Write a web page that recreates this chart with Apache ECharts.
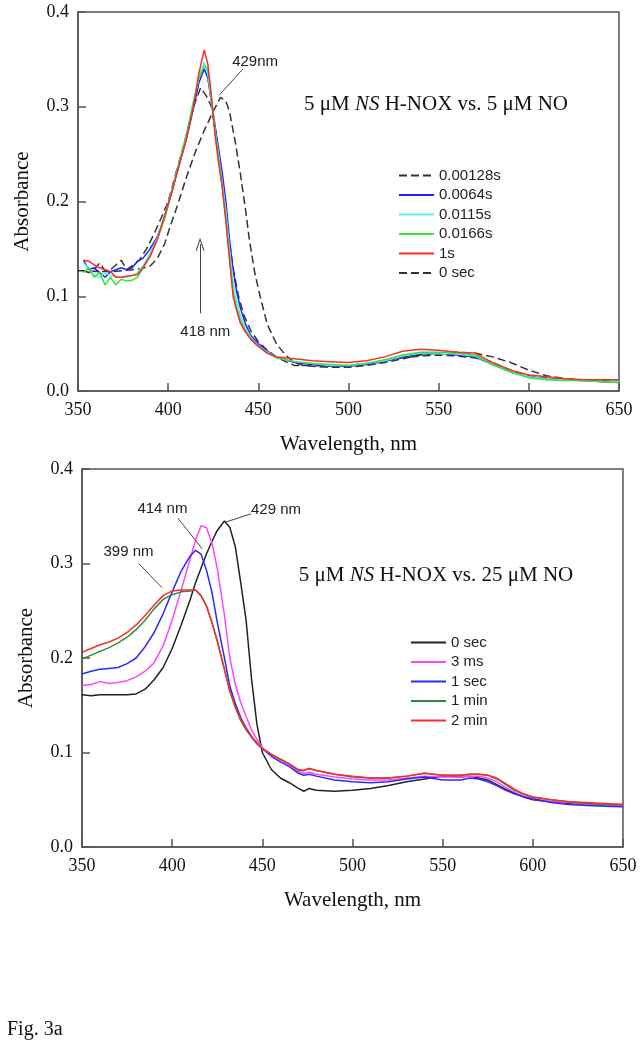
<!DOCTYPE html>
<html>
<head>
<meta charset="utf-8">
<script src="https://cdn.jsdelivr.net/npm/echarts@6/dist/echarts.min.js"></script>
<style>
html,body{margin:0;padding:0;background:#fff;}
#top{position:absolute;left:0;top:0;width:644px;height:460px;}
#bot{position:absolute;left:0;top:460px;width:644px;height:590px;}
</style>
</head>
<body>
<div id="top"></div>
<div id="bot"></div>
<script>
// ---------- DATA: top panel (5 µM NO) ----------
const xTicks = [350, 400, 450, 500, 550, 600, 650];
const yTicks = [0.0, 0.1, 0.2, 0.3, 0.4];

const topWl00128 = [353,356,359,362,365,368,371,374,377,380,384,388,392,396,400,404,408,412,415,418,421,424,427,430,433,436,439,442,446,450,455,460,465,470,480,490,500,510,520,530,540,550,560,570,580,590,600,610,620,630,640,650];
const topAbs00128 = [0.127,0.125,0.128,0.135,0.127,0.128,0.133,0.138,0.128,0.132,0.138,0.15,0.165,0.182,0.2,0.228,0.255,0.285,0.305,0.32,0.312,0.300,0.265,0.22,0.17,0.13,0.1,0.08,0.063,0.052,0.043,0.036,0.031,0.027,0.027,0.026,0.027,0.029,0.032,0.035,0.037,0.038,0.037,0.035,0.03,0.022,0.016,0.014,0.012,0.011,0.01,0.01];

const topWl0 = [350,355,360,365,370,375,380,385,390,394,398,401,405,410,415,420,425,429,432,434,437,440,443,445,448,451,455,460,465,470,475,480,490,500,510,520,530,540,550,560,570,575,580,590,600,610,620,630,640,650];
const topAbs0 = [0.127,0.127,0.126,0.126,0.126,0.127,0.128,0.129,0.132,0.14,0.155,0.173,0.195,0.225,0.252,0.275,0.295,0.31,0.306,0.295,0.265,0.23,0.19,0.16,0.125,0.1,0.07,0.05,0.038,0.03,0.027,0.026,0.025,0.025,0.027,0.03,0.034,0.038,0.04,0.041,0.04,0.038,0.036,0.03,0.022,0.016,0.013,0.012,0.011,0.01];

const topWl = [353,356,359,362,365,368,371,374,377,380,383,386,390,394,398,402,406,410,414,417,420,422,424,426,428,430,432,434,436,438,440,443,446,450,455,460,470,480,490,500,510,520,530,540,550,560,570,580,590,600,610,620,630,640,650];
const topAbs0064 = [0.138,0.128,0.13,0.125,0.12,0.126,0.128,0.13,0.128,0.13,0.137,0.14,0.15,0.163,0.183,0.21,0.238,0.265,0.298,0.325,0.34,0.33,0.305,0.28,0.255,0.23,0.2,0.16,0.128,0.105,0.088,0.07,0.058,0.05,0.042,0.036,0.03,0.028,0.026,0.026,0.028,0.031,0.036,0.039,0.04,0.038,0.036,0.028,0.02,0.015,0.013,0.012,0.011,0.01,0.009];
const topAbs0115 = [0.135,0.13,0.122,0.12,0.125,0.122,0.12,0.12,0.12,0.122,0.125,0.132,0.145,0.162,0.185,0.212,0.24,0.268,0.305,0.33,0.347,0.335,0.305,0.275,0.248,0.22,0.19,0.15,0.115,0.095,0.08,0.066,0.056,0.048,0.041,0.036,0.031,0.029,0.027,0.027,0.029,0.032,0.037,0.04,0.04,0.039,0.037,0.028,0.02,0.015,0.013,0.012,0.011,0.01,0.01];
const topAbs0166 = [0.125,0.13,0.12,0.125,0.112,0.12,0.112,0.118,0.116,0.117,0.12,0.13,0.143,0.16,0.182,0.21,0.24,0.27,0.305,0.33,0.343,0.34,0.31,0.275,0.245,0.215,0.18,0.14,0.105,0.088,0.075,0.063,0.055,0.047,0.04,0.035,0.031,0.029,0.028,0.027,0.029,0.033,0.038,0.041,0.041,0.04,0.038,0.028,0.02,0.014,0.012,0.011,0.011,0.01,0.009];
const topAbs1s = [0.138,0.137,0.133,0.13,0.128,0.126,0.12,0.12,0.121,0.122,0.123,0.13,0.142,0.16,0.185,0.21,0.238,0.265,0.3,0.335,0.36,0.345,0.31,0.27,0.24,0.215,0.18,0.14,0.1,0.085,0.072,0.062,0.054,0.047,0.04,0.036,0.034,0.032,0.031,0.03,0.032,0.036,0.042,0.044,0.043,0.041,0.04,0.03,0.022,0.017,0.015,0.013,0.012,0.012,0.012];

// ---------- DATA: bottom panel (25 µM NO) ----------
const botWl = [350,355,360,365,370,375,380,385,390,395,400,405,410,413,416,419,422,425,429,432,435,438,441,444,447,450,455,460,465,470,473,476,480,490,500,510,520,530,540,550,560,565,570,575,580,585,590,595,600,610,620,630,640,650];
const bot0sec = [0.161,0.16,0.161,0.161,0.161,0.161,0.162,0.167,0.177,0.19,0.21,0.235,0.262,0.28,0.295,0.31,0.323,0.335,0.345,0.338,0.318,0.28,0.24,0.178,0.13,0.1,0.082,0.073,0.068,0.062,0.059,0.062,0.06,0.059,0.06,0.062,0.065,0.069,0.072,0.075,0.074,0.075,0.073,0.071,0.066,0.061,0.057,0.053,0.05,0.048,0.046,0.045,0.044,0.044];
const bot3ms = [0.171,0.172,0.175,0.173,0.174,0.176,0.18,0.186,0.195,0.213,0.24,0.272,0.305,0.325,0.34,0.338,0.322,0.295,0.245,0.2,0.172,0.153,0.138,0.124,0.114,0.105,0.098,0.092,0.087,0.08,0.078,0.079,0.077,0.074,0.072,0.071,0.071,0.073,0.075,0.074,0.074,0.075,0.075,0.073,0.069,0.063,0.058,0.054,0.051,0.048,0.047,0.045,0.044,0.044];
const bot1sec = [0.183,0.186,0.188,0.189,0.19,0.194,0.2,0.212,0.227,0.247,0.27,0.292,0.308,0.314,0.31,0.293,0.27,0.238,0.2,0.17,0.152,0.137,0.126,0.117,0.11,0.104,0.096,0.09,0.085,0.078,0.076,0.077,0.075,0.071,0.069,0.068,0.069,0.072,0.074,0.071,0.071,0.073,0.072,0.069,0.065,0.06,0.056,0.053,0.051,0.047,0.045,0.044,0.043,0.0425];
const bot1min = [0.199,0.203,0.207,0.211,0.216,0.222,0.23,0.24,0.252,0.262,0.267,0.27,0.271,0.272,0.266,0.255,0.238,0.218,0.188,0.165,0.148,0.134,0.124,0.116,0.109,0.104,0.098,0.093,0.088,0.081,0.081,0.083,0.081,0.077,0.074,0.073,0.073,0.075,0.078,0.076,0.076,0.077,0.077,0.076,0.072,0.066,0.06,0.056,0.053,0.05,0.048,0.046,0.045,0.045];
const bot2min = [0.206,0.21,0.214,0.217,0.221,0.227,0.235,0.245,0.256,0.266,0.271,0.272,0.272,0.272,0.266,0.255,0.238,0.218,0.188,0.165,0.148,0.135,0.125,0.117,0.11,0.104,0.098,0.093,0.088,0.082,0.081,0.083,0.081,0.077,0.075,0.073,0.073,0.075,0.078,0.076,0.076,0.077,0.077,0.076,0.073,0.067,0.061,0.056,0.053,0.05,0.048,0.047,0.046,0.045];

// ---------- annotations (data space) ----------
const topLabels = [{name:'429nm', at:[448.2,0.347]}, {name:'418 nm', at:[420.6,0.062]}];
const topLeader = [[[441.5,0.340],[428.2,0.312]]];
const topArrow = [[417.7,0.082],[417.7,0.155]];
const botLabels = [{name:'414 nm', at:[394.6,0.358]}, {name:'429 nm', at:[457.6,0.357]}, {name:'399 nm', at:[375.8,0.3124]}];
const botLeaders = [[[403.2,0.348],[416.6,0.3156]], [[443.7,0.3525],[429.9,0.344]], [[381.6,0.2997],[394.4,0.2744]]];

// ---------- styling helpers ----------
const SERIF = '"Liberation Serif","Times New Roman",serif';
const SANS = '"Liberation Sans",Arial,sans-serif';
const AX = '#555';
const pairs = (xs, ys) => xs.map((x, i) => [x, ys[i]]);

function axes() {
  return {
    xAxis: {
      type:'value', min:xTicks[0], max:xTicks[xTicks.length-1], interval:50,
      axisLine:{show:true, onZero:false, lineStyle:{color:AX, width:1.5}},
      axisTick:{show:true, inside:true, length:8, lineStyle:{color:AX, width:1.5}},
      axisLabel:{fontFamily:SERIF, fontSize:18, color:'#111', margin:10},
      splitLine:{show:false},
      name:'Wavelength, nm', nameLocation:'middle', nameGap:43,
      nameTextStyle:{fontFamily:SERIF, fontSize:21, color:'#111'}
    },
    yAxis: {
      type:'value', min:yTicks[0], max:yTicks[yTicks.length-1], interval:0.1,
      axisLine:{show:true, lineStyle:{color:AX, width:1.5}},
      axisTick:{show:true, inside:true, length:8, lineStyle:{color:AX, width:1.5}},
      axisLabel:{fontFamily:SERIF, fontSize:18, color:'#111', margin:9, formatter:v => v.toFixed(1)},
      splitLine:{show:false},
      name:'Absorbance', nameLocation:'middle', nameGap:45, nameRotate:90,
      nameTextStyle:{fontFamily:SERIF, fontSize:21, color:'#111'}
    }
  };
}
function line(name, data, color, dashed) {
  return {
    name, type:'line', data, showSymbol:false, symbol:'none', smooth:false,
    lineStyle:{color, width:1.5, type: dashed ? [8,4] : 'solid'},
    itemStyle:{color}, animation:false, silent:true, z:3
  };
}
function annotSeries(labels, leaders, arrow) {
  const lines = leaders.map(seg => [{coord:seg[0]}, {coord:seg[1]}]);
  if (arrow) lines.push([{coord:arrow[0], symbol:'none'},
    {coord:arrow[1], symbol:'path://M0,14 L5,0 L10,14 L8.8,14 L5,3.4 L1.2,14 Z', symbolSize:[9,13]}]);
  return {
    name:'annot', type:'line', data:[], silent:true, animation:false,
    markLine:{silent:true, animation:false, symbol:['none','none'], label:{show:false},
      lineStyle:{color:'#444', width:1, type:'solid'}, emphasis:{disabled:true}, data:lines},
    markPoint:{silent:true, animation:false, symbol:'circle', symbolSize:0,
      itemStyle:{color:'rgba(0,0,0,0)'},
      label:{show:true, position:'inside', formatter:'{b}', fontFamily:SANS, fontSize:15, color:'#222'},
      data: labels.map(l => ({name:l.name, coord:l.at, value:0}))}
  };
}
function titleGraphic(x, y, concText) {
  return {
    type:'text', x, y, silent:true,
    style:{
      text:'{n|5 μM }{i|NS}{n| H-NOX vs. ' + concText + ' μM NO}',
      align:'center', verticalAlign:'middle',
      rich:{
        n:{fontFamily:SERIF, fontSize:21, fill:'#111', color:'#111'},
        i:{fontFamily:SERIF, fontSize:21, fontStyle:'italic', fill:'#111', color:'#111'}
      }
    }
  };
}
const legendBase = {
  orient:'vertical', itemWidth:35, itemHeight:12, itemGap:4.5, selectedMode:false,
  itemStyle:{opacity:0, borderWidth:0},
  textStyle:{fontFamily:SANS, fontSize:15, color:'#222'}
};

// ---------- top chart ----------
const topChart = echarts.init(document.getElementById('top'), null, {renderer:'canvas'});
const a1 = axes();
topChart.setOption({
  animation:false,
  grid:{left:78, top:12, width:541, height:379, show:true, borderColor:AX, borderWidth:1.5, backgroundColor:'transparent'},
  xAxis:a1.xAxis, yAxis:a1.yAxis,
  legend:Object.assign({}, legendBase, {left:393, top:163,
    data:['0.00128s','0.0064s','0.0115s','0.0166s','1s','0 sec']}),
  graphic:[titleGraphic(436, 104, '5')],
  series:[
    line('0 sec', pairs(topWl0, topAbs0), '#333333', true),
    line('0.00128s', pairs(topWl00128, topAbs00128), '#333333', true),
    line('0.0064s', pairs(topWl, topAbs0064), '#1f1fff', false),
    line('0.0115s', pairs(topWl, topAbs0115), '#55f2f2', false),
    line('0.0166s', pairs(topWl, topAbs0166), '#33e633', false),
    line('1s', pairs(topWl, topAbs1s), '#ff2a2a', false),
    annotSeries(topLabels, topLeader, topArrow)
  ]
});

// ---------- bottom chart ----------
const botChart = echarts.init(document.getElementById('bot'), null, {renderer:'canvas'});
const a2 = axes();
botChart.setOption({
  animation:false,
  grid:{left:82, top:8, width:541, height:379, show:true, borderColor:AX, borderWidth:1.5, backgroundColor:'transparent'},
  xAxis:a2.xAxis, yAxis:a2.yAxis,
  legend:Object.assign({}, legendBase, {left:405, top:170,
    data:['0 sec','3 ms','1 sec','1 min','2 min']}),
  graphic:[
    titleGraphic(436, 115, '25'),
    {type:'text', x:7, y:570, silent:true,
     style:{text:'Fig. 3a', fontFamily:SERIF, fontSize:20, fill:'#111', verticalAlign:'middle'}}
  ],
  series:[
    line('0 sec', pairs(botWl, bot0sec), '#222222', false),
    line('3 ms', pairs(botWl, bot3ms), '#ff44ff', false),
    line('1 sec', pairs(botWl, bot1sec), '#2a2aff', false),
    line('1 min', pairs(botWl, bot1min), '#2e8b3a', false),
    line('2 min', pairs(botWl, bot2min), '#ff2a2a', false),
    annotSeries(botLabels, botLeaders, null)
  ]
});
</script>
</body>
</html>
